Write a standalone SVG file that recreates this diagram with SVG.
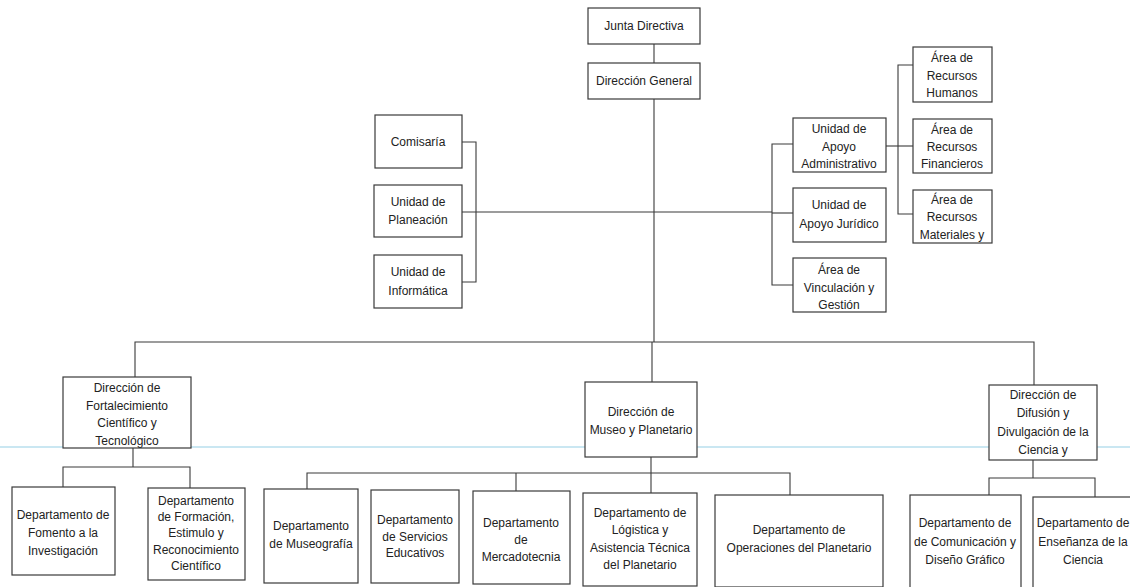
<svg xmlns="http://www.w3.org/2000/svg" width="1130" height="587" viewBox="0 0 1130 587">
<style>
.b{fill:#fff;stroke:#3a3a3a;stroke-width:1.2}
.t{font-family:"Liberation Sans",Arial,sans-serif;font-size:12px;fill:#222;text-anchor:middle}
.c{fill:none;stroke:#3a3a3a;stroke-width:1.1}
</style>
<rect width="1130" height="587" fill="#fff"/>
<line x1="0" y1="447" x2="1130" y2="447" stroke="#a9d9ea" stroke-width="1.6" opacity="0.8"/>
<g id="connectors" class="c">
<path d="M654 44V63"/>
<path d="M654 99V342"/>
<path d="M652 342V382"/>
<path d="M462 212H772"/>
<path d="M462 142H476V282H462"/>
<path d="M793 144H772V285H793"/>
<path d="M772 213H793"/>
<path d="M886 146H913"/>
<path d="M913 65H898V214H913"/>
<path d="M135 377V342H1034V385"/>
<path d="M133 448V467"/>
<path d="M63 487V467H190V488"/>
<path d="M651 457V493"/>
<path d="M307 489V473H790V495"/>
<path d="M516 473V491"/>
<path d="M1033 460V478"/>
<path d="M989 495V478H1095V497"/>
</g>
<g id="junta"><rect class="b" x="588" y="8" width="112" height="36"/><text class="t" x="644" y="30">Junta Directiva</text></g>
<g id="direccion-general"><rect class="b" x="588" y="63" width="112" height="36"/><text class="t" x="644" y="85">Dirección General</text></g>
<g id="comisaria"><rect class="b" x="375" y="115" width="87" height="53"/><text class="t" x="418" y="146">Comisaría</text></g>
<g id="planeacion"><rect class="b" x="374" y="185" width="88" height="52"/><text class="t" x="418" y="206">Unidad de</text><text class="t" x="418" y="224">Planeación</text></g>
<g id="informatica"><rect class="b" x="374" y="255" width="88" height="53"/><text class="t" x="418" y="276">Unidad de</text><text class="t" x="418" y="295">Informática</text></g>
<g id="apoyo-admin"><rect class="b" x="793" y="118" width="93" height="54"/><text class="t" x="839" y="133">Unidad de</text><text class="t" x="839" y="151">Apoyo</text><text class="t" x="839" y="168">Administrativo</text></g>
<g id="apoyo-juridico"><rect class="b" x="793" y="188" width="93" height="54"/><text class="t" x="839" y="209">Unidad de</text><text class="t" x="839" y="228">Apoyo Jurídico</text></g>
<g id="vinculacion"><rect class="b" x="793" y="258" width="93" height="54"/><text class="t" x="839" y="274">Área de</text><text class="t" x="839" y="292">Vinculación y</text><text class="t" x="839" y="309">Gestión</text></g>
<g id="rh"><rect class="b" x="913" y="47" width="79" height="55"/><text class="t" x="952" y="62">Área de</text><text class="t" x="952" y="80">Recursos</text><text class="t" x="952" y="97">Humanos</text></g>
<g id="rf"><rect class="b" x="913" y="119" width="79" height="54"/><text class="t" x="952" y="134">Área de</text><text class="t" x="952" y="151">Recursos</text><text class="t" x="952" y="168">Financieros</text></g>
<g id="rm"><rect class="b" x="913" y="190" width="79" height="53"/><text class="t" x="952" y="204">Área de</text><text class="t" x="952" y="221">Recursos</text><text class="t" x="952" y="239">Materiales y</text></g>
<g id="fortalecimiento"><rect class="b" x="63" y="377" width="128" height="71"/><text class="t" x="127" y="392">Dirección de</text><text class="t" x="127" y="410">Fortalecimiento</text><text class="t" x="127" y="427">Científico y</text><text class="t" x="127" y="445">Tecnológico</text></g>
<g id="museo"><rect class="b" x="585" y="382" width="112" height="75"/><text class="t" x="641" y="416">Dirección de</text><text class="t" x="641" y="434">Museo y Planetario</text></g>
<g id="difusion"><rect class="b" x="989" y="385" width="108" height="75"/><text class="t" x="1043" y="399">Dirección de</text><text class="t" x="1043" y="417">Difusión y</text><text class="t" x="1043" y="436">Divulgación de la</text><text class="t" x="1043" y="454">Ciencia y</text></g>
<g id="fomento"><rect class="b" x="12" y="487" width="103" height="88"/><text class="t" x="63" y="519">Departamento de</text><text class="t" x="63" y="537">Fomento a la</text><text class="t" x="63" y="555">Investigación</text></g>
<g id="formacion"><rect class="b" x="148" y="488" width="97" height="92"/><text class="t" x="196" y="505">Departamento</text><text class="t" x="196" y="521">de Formación,</text><text class="t" x="196" y="537">Estimulo y</text><text class="t" x="196" y="554">Reconocimiento</text><text class="t" x="196" y="570">Científico</text></g>
<g id="museografia"><rect class="b" x="264" y="489" width="94" height="94"/><text class="t" x="311" y="530">Departamento</text><text class="t" x="311" y="548">de Museografía</text></g>
<g id="servicios"><rect class="b" x="371" y="490" width="88" height="93"/><text class="t" x="415" y="524">Departamento</text><text class="t" x="415" y="541">de Servicios</text><text class="t" x="415" y="557">Educativos</text></g>
<g id="mercadotecnia"><rect class="b" x="473" y="491" width="97" height="93"/><text class="t" x="521" y="527">Departamento</text><text class="t" x="521" y="544">de</text><text class="t" x="521" y="561">Mercadotecnia</text></g>
<g id="logistica"><rect class="b" x="583" y="493" width="114" height="93"/><text class="t" x="640" y="517">Departamento de</text><text class="t" x="640" y="534">Lógistica y</text><text class="t" x="640" y="552">Asistencia Técnica</text><text class="t" x="640" y="569">del Planetario</text></g>
<g id="operaciones"><rect class="b" x="715" y="495" width="168" height="92"/><text class="t" x="799" y="534">Departamento de</text><text class="t" x="799" y="552">Operaciones del Planetario</text></g>
<g id="comunicacion"><rect class="b" x="910" y="495" width="111" height="96"/><text class="t" x="965" y="527">Departamento de</text><text class="t" x="965" y="546">de Comunicación y</text><text class="t" x="965" y="564">Diseño Gráfico</text></g>
<g id="ensenanza"><rect class="b" x="1033" y="497" width="100" height="94"/><text class="t" x="1083" y="527">Departamento de</text><text class="t" x="1083" y="546">Enseñanza de la</text><text class="t" x="1083" y="564">Ciencia</text></g>
</svg>
